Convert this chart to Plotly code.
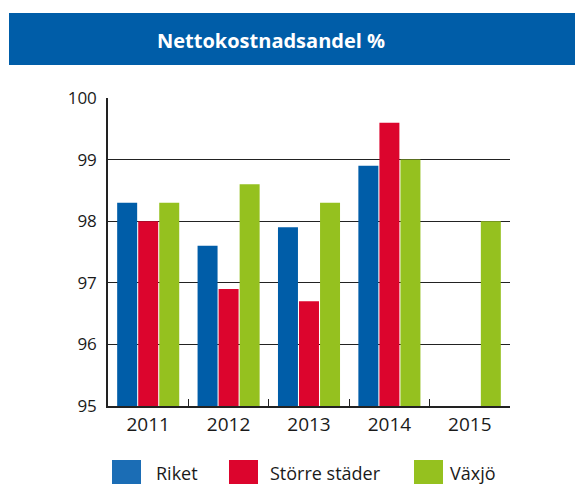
import plotly.graph_objects as go

# data
years = ["2011", "2012", "2013", "2014", "2015"]
riket = [98.3, 97.6, 97.9, 98.9, None]
storre_stader = [98.0, 96.9, 96.7, 99.6, None]
vaxjo = [98.3, 98.6, 98.3, 99.0, 98.0]

series_names = ["Riket", "Större städer", "Växjö"]
series_colors = ["#005DA8", "#DC052D", "#95C11F"]
legend_colors = ["#1B6DB5", "#DC052D", "#95C11F"]

FONT = "Open Sans, Lato, DejaVu Sans, sans-serif"
TEXT = "#1a1a1a"

fig = go.Figure()
for nm, vals, col in zip(series_names, [riket, storre_stader, vaxjo], series_colors):
    fig.add_trace(go.Bar(x=years, y=vals, name=nm, marker_color=col,
                         marker_line_width=0, showlegend=False))

# page body has an 8px margin, so the figure is 8px smaller than the window
fig.update_layout(
    width=575, height=476,
    margin=dict(l=100, r=73, t=90, b=78),
    paper_bgcolor="white", plot_bgcolor="white",
    barmode="group", bargap=0.215, bargroupgap=0.05,
    font=dict(family=FONT, color=TEXT, size=17),
)
fig.update_yaxes(range=[95, 100], dtick=1, showgrid=True, gridcolor="#222222",
                 gridwidth=1, showline=True, linecolor="#222222", linewidth=1.5,
                 ticks="", ticklabelstandoff=6, zeroline=False,
                 tickfont=dict(size=17, color=TEXT))
fig.update_xaxes(showline=True, linecolor="#222222", linewidth=1.5,
                 tickson="boundaries", ticks="inside", ticklen=7,
                 tickcolor="#222222", showgrid=False,
                 tickfont=dict(size=19, color=TEXT))

# title bar (pixel positions of the reference page -> paper coords)
def px(x):
    return (x - 108) / 402


def py(y):
    return (406 - y) / 308


fig.add_shape(type="rect", xref="paper", yref="paper",
              x0=px(9), x1=px(590), y0=py(65), y1=py(13),
              fillcolor="#005DA8", line_width=0, layer="below")
fig.add_annotation(xref="paper", yref="paper", x=px(271), y=py(40),
                   xanchor="center", yanchor="middle",
                   text="<b>Nettokostnadsandel %</b>", showarrow=False,
                   font=dict(family=FONT, size=20, color="white"))

# legend drawn as large swatches
leg_x = [112, 229, 414]
txt_x = [154, 268, 448]
for lx, tx, nm, col in zip(leg_x, txt_x, series_names, legend_colors):
    fig.add_shape(type="rect", xref="paper", yref="paper",
                  x0=px(lx), x1=px(lx + 29), y0=py(492), y1=py(460),
                  fillcolor=col, line_width=0)
    fig.add_annotation(xref="paper", yref="paper", x=px(tx), y=py(473),
                       xanchor="left", yanchor="middle",
                       text=nm, showarrow=False,
                       font=dict(family=FONT, size=18, color=TEXT))

fig.write_html("out.html")
